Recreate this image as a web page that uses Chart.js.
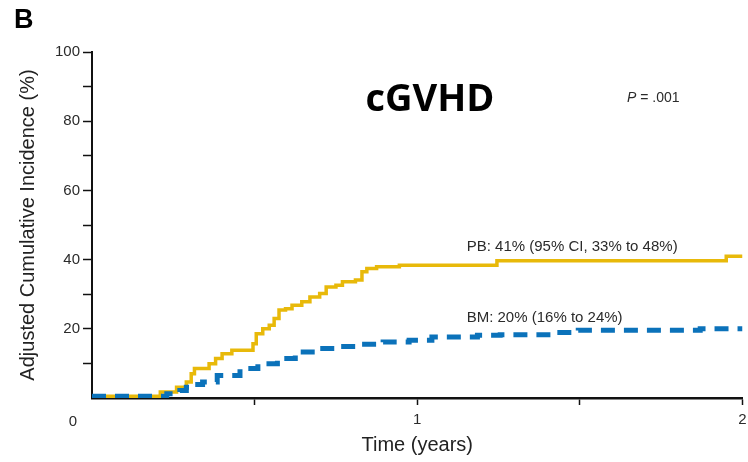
<!DOCTYPE html>
<html>
<head>
<meta charset="utf-8">
<title>cGVHD cumulative incidence</title>
<script src="https://cdn.jsdelivr.net/npm/chart.js@4.4.1/dist/chart.umd.min.js"></script>
<style>
  html, body { margin: 0; padding: 0; background: #fff; }
  #wrap { width: 748px; height: 462px; position: relative; }
</style>
</head>
<body>
<div id="wrap"><canvas id="cgvhd"></canvas></div>
<script>
// PB arm: step times (years) and adjusted cumulative incidence (%)
const pbTimes = [0, 0.21, 0.26, 0.29, 0.305, 0.315, 0.36, 0.38, 0.40, 0.43, 0.495, 0.505, 0.525,
  0.545, 0.56, 0.575, 0.595, 0.615, 0.645, 0.67, 0.70, 0.72, 0.75, 0.77, 0.81, 0.83, 0.845,
  0.875, 0.945, 1.245, 1.95, 2.0];
const pbValues = [0.5, 1.7, 3.1, 4.6, 7.0, 8.5, 9.9, 11.4, 12.8, 13.8, 15.7, 18.6, 20.0,
  21.0, 23.0, 25.4, 25.8, 26.8, 27.8, 29.2, 30.2, 32.1, 32.6, 33.6, 34.1, 36.5, 37.4,
  37.9, 38.4, 39.7, 41, 41];

// BM arm
const bmTimes = [0, 0.23, 0.27, 0.29, 0.31, 0.34, 0.385, 0.455, 0.51, 0.57, 0.625, 0.695,
  0.755, 0.825, 0.895, 0.975, 1.045, 1.185, 1.255, 1.42, 1.495, 1.87, 2.0];
const bmValues = [0.5, 1.2, 2.2, 3.1, 3.9, 4.6, 6.5, 8.5, 9.9, 11.4, 13.3, 14.3,
  14.9, 15.5, 16.2, 16.7, 17.6, 18.1, 18.3, 18.9, 19.6, 20, 20];

const xLabelled = [1, 2];
const yLabelled = [20, 40, 60, 80, 100];

const pbLabel = 'PB: 41% (95% CI, 33% to 48%)';
const bmLabel = 'BM: 20% (16% to 24%)';

const toPoints = (times, values) => times.map((t, i) => ({ x: t, y: values[i] }));

const sans = '"Liberation Sans", Arial, Helvetica, sans-serif';
const textColor = '#2b2b2b';
const axisColor = '#111';

// panel letter, title, p value, arm labels and the shared origin "0"
const annotate = {
  id: 'annotate',
  afterDraw(chart) {
    const ctx = chart.ctx;
    const xs = chart.scales.x;
    const ys = chart.scales.y;
    ctx.save();
    ctx.textBaseline = 'alphabetic';

    ctx.fillStyle = '#000';
    ctx.textAlign = 'left';
    ctx.font = 'bold 27px ' + sans;
    ctx.fillText('B', 14, 28);

    ctx.textAlign = 'center';
    ctx.font = 'bold 38px "Open Sans", sans-serif';
    ctx.fillText('cGVHD', 430, 111);

    ctx.fillStyle = textColor;
    ctx.textAlign = 'left';
    let px = xs.getPixelForValue(1.645);
    const py = ys.getPixelForValue(85.5);
    ctx.font = 'italic 14px ' + sans;
    ctx.fillText('P', px, py);
    px += ctx.measureText('P').width;
    ctx.font = '14px ' + sans;
    ctx.fillText(' = .001', px, py);

    ctx.font = '15px ' + sans;
    ctx.fillText(pbLabel, xs.getPixelForValue(1.152), ys.getPixelForValue(42.5));
    ctx.fillText(bmLabel, xs.getPixelForValue(1.152), ys.getPixelForValue(22));

    ctx.textAlign = 'center';
    ctx.fillText('0', chart.chartArea.left - 19, xs.top + 28);
    ctx.restore();
  }
};

new Chart(document.getElementById('cgvhd'), {
  type: 'line',
  data: {
    datasets: [
      {
        label: 'BM',
        data: toPoints(bmTimes, bmValues),
        borderColor: '#0B72BA',
        borderWidth: 5,
        borderDash: [14, 9],
        stepped: true,
        pointRadius: 0,
        fill: false
      },
      {
        label: 'PB',
        data: toPoints(pbTimes, pbValues),
        borderColor: '#E8B90A',
        borderWidth: 3.5,
        stepped: true,
        pointRadius: 0,
        fill: false
      }
    ]
  },
  options: {
    responsive: true,
    maintainAspectRatio: false,
    animation: false,
    layout: { padding: { top: 52, right: 5.5, left: 0, bottom: 0 } },
    plugins: {
      legend: { display: false },
      tooltip: { enabled: false }
    },
    scales: {
      x: {
        type: 'linear',
        min: 0,
        max: 2,
        // fixed axis band; the "2" label may run to the canvas edge
        afterFit: (scale) => {
          scale.height = 64;
          scale.paddingLeft = 0;
          scale.paddingRight = 0;
        },
        border: { color: axisColor, width: 2.5 },
        grid: {
          drawOnChartArea: false,
          tickLength: 7,
          tickWidth: 1.5,
          tickColor: (c) => c.tick && c.tick.value === 0 ? 'rgba(0,0,0,0)' : axisColor
        },
        ticks: {
          stepSize: 0.5,
          autoSkip: false,
          maxRotation: 0,
          padding: 6,
          color: textColor,
          font: { size: 15, family: sans },
          callback: (v) => xLabelled.includes(v) ? String(v) : ''
        },
        title: {
          display: true,
          text: 'Time (years)',
          color: '#222',
          font: { size: 20, family: sans },
          padding: { top: 0, bottom: 5 }
        }
      },
      y: {
        min: 0,
        max: 100,
        afterFit: (scale) => { scale.width = 92; },
        border: { color: axisColor, width: 2 },
        grid: {
          drawOnChartArea: false,
          tickLength: 9,
          tickWidth: 1.5,
          tickColor: (c) => c.tick && c.tick.value === 0 ? 'rgba(0,0,0,0)' : axisColor
        },
        ticks: {
          stepSize: 10,
          autoSkip: false,
          padding: 3,
          color: textColor,
          font: { size: 15, family: sans },
          callback: (v) => yLabelled.includes(v) ? String(v) : ''
        },
        title: {
          display: true,
          text: 'Adjusted Cumulative Incidence (%)',
          color: '#222',
          font: { size: 20, family: sans },
          padding: { top: 16, bottom: 0 }
        }
      }
    }
  },
  plugins: [annotate]
});
</script>
</body>
</html>
